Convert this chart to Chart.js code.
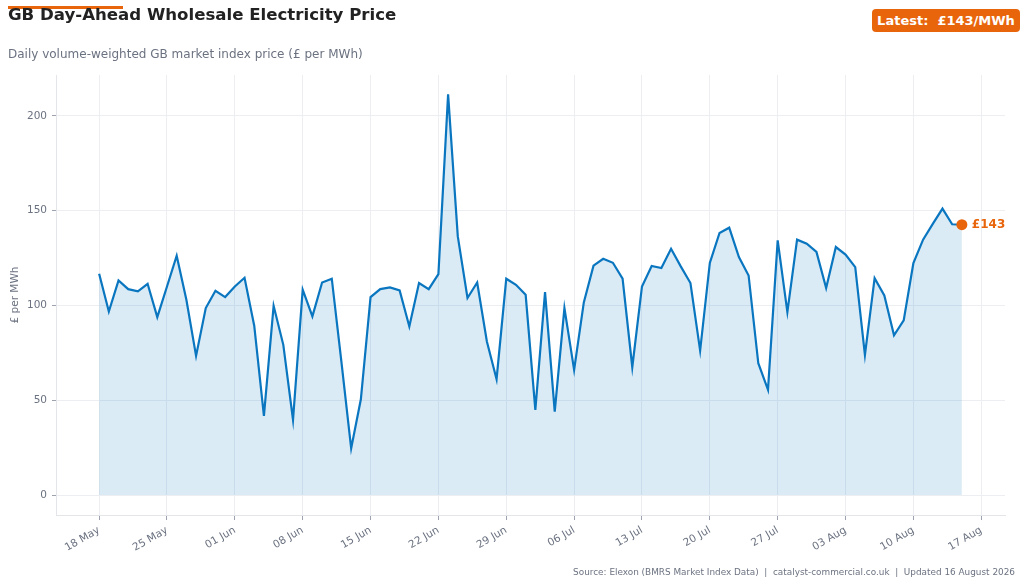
<!DOCTYPE html>
<html lang="en">
<head>
<meta charset="UTF-8">
<title>GB Day-Ahead Wholesale Electricity Price</title>
<script src="https://cdn.jsdelivr.net/npm/chart.js"></script>
<style>
    html, body { margin: 0; padding: 0; background: #fff; }
    body { width: 1024px; height: 586px; position: relative; overflow: hidden; font-family: "DejaVu Sans", sans-serif; }
    #wrap { position: absolute; left: 0; top: 0; width: 1024px; height: 586px; }
    .accent { position: absolute; left: 8px; top: 6px; width: 115px; height: 3px; background: #e8650c; }
    .title { position: absolute; left: 8px; top: 5px; font-size: 16.6px; font-weight: bold; color: #222; white-space: nowrap; }
    .subtitle { position: absolute; left: 8px; top: 47px; font-size: 12px; color: #6b7280; white-space: nowrap; }
    .badge {
        position: absolute; left: 872px; top: 9px; width: 148px; height: 23px;
        background: #e8650c; color: #fff; border-radius: 4px;
        font-size: 13px; font-weight: bold; line-height: 23px; text-align: center; white-space: pre;
    }
    .footer { position: absolute; right: 9px; top: 567px; font-size: 8.9px; color: #6b7280; white-space: pre; }
</style>
</head>
<body>
<div id="wrap"><canvas id="priceChart" width="1024" height="586"></canvas></div>
<div class="accent"></div>
<div class="title">GB Day-Ahead Wholesale Electricity Price</div>
<div class="subtitle">Daily volume-weighted GB market index price (£ per MWh)</div>
<div class="badge">Latest:  £143/MWh</div>
<div class="footer">Source: Elexon (BMRS Market Index Data)  |  catalyst-commercial.co.uk  |  Updated 16 August 2026</div>

<script>
    // 일별 가격 (18 May ~ 15 Aug), £/MWh
    const prices = [
        116.7, 96.8, 113.2, 108.6, 107.4, 111.4, 93.8, 110, 126.2, 103,
        73.4, 98.6, 107.7, 104.4, 110, 114.6, 89.3, 41.7, 99.8, 79.2,
        39.6, 108.3, 94.2, 112.1, 114.1, 70, 24.6, 50.5, 104.4, 108.6,
        109.5, 107.9, 88.9, 111.8, 108.6, 116.5, 211.3, 136.4, 103.9, 112.1,
        81, 61.1, 114.1, 110.9, 105.6, 44.9, 107, 44, 98.6, 66,
        101.6, 121, 124.6, 122.5, 114.1, 67.4, 110, 120.8, 119.7, 129.9,
        120.6, 111.8, 76.2, 122.4, 138.2, 141, 125.5, 115.8, 69.5, 55.5,
        134.3, 96.5, 134.7, 132.6, 128.2, 109.2, 130.8, 126.8, 120.2, 73.9,
        114.4, 105.3, 84.2, 92.1, 122.4, 134.7, 143, 151.1, 142.8, 142.6
    ];
    const tickDays = [0, 7, 14, 21, 28, 35, 42, 49, 56, 63, 70, 77, 84, 91];
    const tickLabels = ['18 May', '25 May', '01 Jun', '08 Jun', '15 Jun', '22 Jun', '29 Jun',
                        '06 Jul', '13 Jul', '20 Jul', '27 Jul', '03 Aug', '10 Aug', '17 Aug'];
    const yTicks = [0, 50, 100, 150, 200];
    const latestLabel = '£143';

    const GRID = '#eceef2';
    const TEXT = '#6b7280';
    const BLUE = '#0a76c0';
    const ORANGE = '#e8650c';

    const points = prices.map((v, i) => ({ x: i, y: v }));
    const lastIdx = prices.length - 1;

    // 마지막 값 라벨
    const latestLabelPlugin = {
        id: 'latestLabel',
        afterDatasetsDraw(chart) {
            const { ctx, scales } = chart;
            const x = scales.x.getPixelForValue(lastIdx);
            const y = scales.y.getPixelForValue(prices[lastIdx]);
            ctx.save();
            ctx.font = 'bold 12px "DejaVu Sans"';
            ctx.fillStyle = ORANGE;
            ctx.textAlign = 'left';
            ctx.textBaseline = 'middle';
            ctx.fillText(latestLabel, x + 10, y);
            ctx.restore();
        }
    };

    Chart.defaults.font.family = '"DejaVu Sans", sans-serif';

    new Chart(document.getElementById('priceChart'), {
        type: 'line',
        data: {
            datasets: [
                {
                    data: [{ x: lastIdx, y: prices[lastIdx] }],
                    showLine: false,
                    pointRadius: 5.5,
                    pointBackgroundColor: ORANGE,
                    pointBorderWidth: 0,
                    order: 0
                },
                {
                    data: points,
                    borderColor: BLUE,
                    borderWidth: 2.2,
                    backgroundColor: 'rgba(10,118,192,0.15)',
                    fill: 'origin',
                    pointRadius: 0,
                    tension: 0,
                    order: 1
                }
            ]
        },
        options: {
            responsive: false,
            animation: false,
            layout: { padding: { top: 75, right: 19, left: 0, bottom: 0 } },
            plugins: {
                legend: { display: false },
                tooltip: { enabled: false }
            },
            scales: {
                x: {
                    type: 'linear',
                    min: -4.45,
                    max: 93.45,
                    afterBuildTicks: s => { s.ticks = tickDays.map(v => ({ value: v })); },
                    afterFit: s => { s.height = 71; },
                    ticks: {
                        color: TEXT,
                        font: { size: 10.5 },
                        minRotation: 30,
                        maxRotation: 30,
                        padding: 4,
                        callback: v => tickLabels[tickDays.indexOf(v)]
                    },
                    grid: { color: GRID, tickColor: '#9ca3af', tickLength: 5 },
                    border: { display: true, color: '#e3e5e9' }
                },
                y: {
                    min: -10.55,
                    max: 221.55,
                    afterBuildTicks: s => { s.ticks = yTicks.map(v => ({ value: v })); },
                    afterFit: s => { s.width = 56; },
                    ticks: { color: TEXT, font: { size: 10.5 }, padding: 5 },
                    grid: { color: GRID, tickColor: '#9ca3af', tickLength: 4 },
                    border: { display: true, color: '#e3e5e9' },
                    title: {
                        display: true,
                        text: '£ per MWh',
                        color: TEXT,
                        font: { size: 10.5 },
                        padding: { top: 9, bottom: 0 }
                    }
                }
            }
        },
        plugins: [latestLabelPlugin]
    });
</script>
</body>
</html>
